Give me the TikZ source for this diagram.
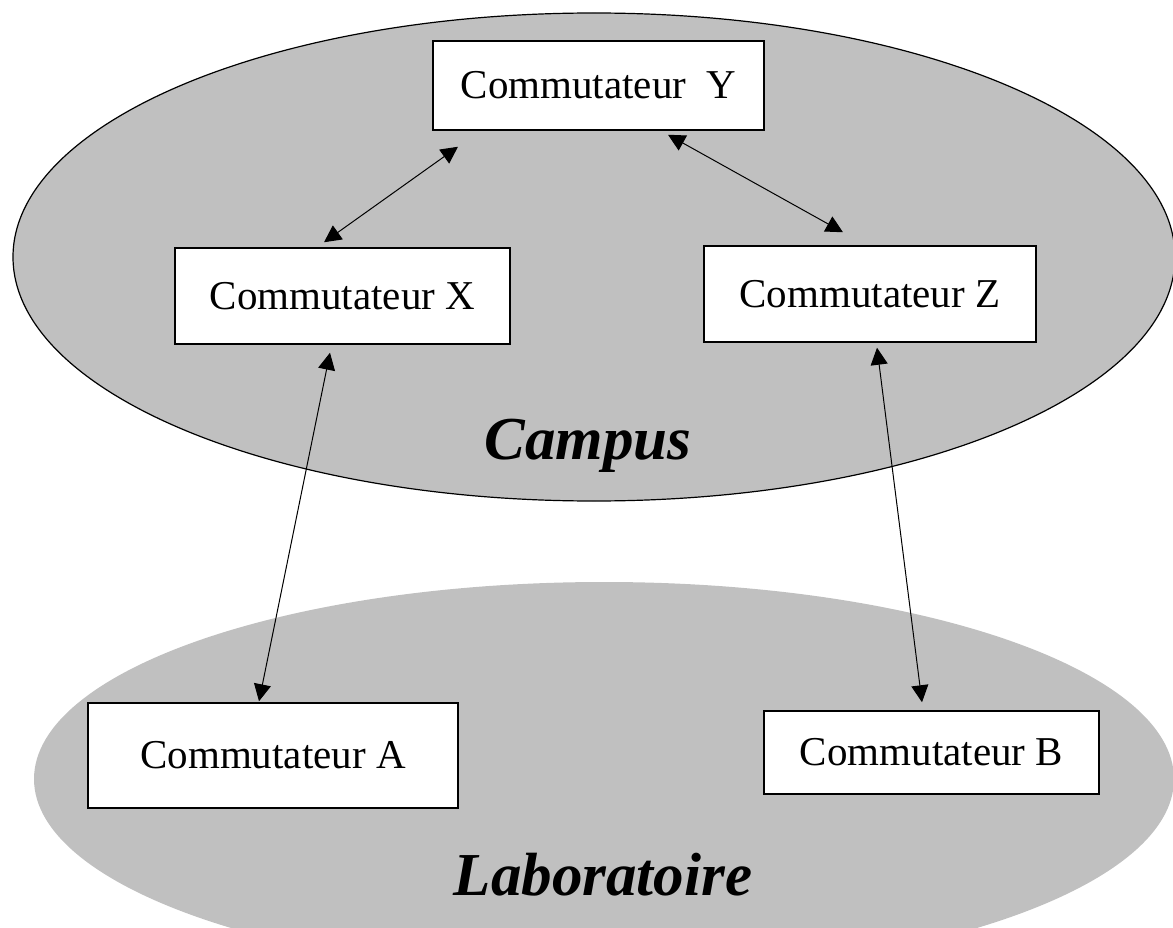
\documentclass[tikz,border=0pt]{standalone}
\usepackage{fontspec}
\setmainfont{Liberation Serif}
\usetikzlibrary{arrows.meta,calc}
\definecolor{ovalgray}{RGB}{192,192,192}
\begin{document}
\begin{tikzpicture}[x=1pt,y=-1pt,
  box/.style={draw=black, line width=1.5pt, fill=white, inner sep=0pt,
    font=\fontsize{41}{48}\selectfont},
  biarrow/.style={line width=1pt,
    {Triangle[length=17pt,width=17pt]}-{Triangle[length=17pt,width=17pt]}},
  zonelabel/.style={font=\fontsize{61}{70}\selectfont\bfseries\itshape,
    anchor=base, inner sep=0pt}]
\useasboundingbox (0,0) rectangle (1173,928);
% zones
\path[fill=ovalgray, draw=black, line width=1.2pt]
  (594,257) ellipse [x radius=581, y radius=244];
\fill[ovalgray] (604,779) ellipse [x radius=570, y radius=197];
\node[zonelabel] (campuslbl) at (588,459) {Campus};
\node[zonelabel] (lablbl) at (603,895) {Laboratoire};
% switches
\node[box, minimum width=331pt, minimum height=89pt] (Y) at (598.5,85.5) {Commutateur\ \ Y};
\node[box, minimum width=335pt, minimum height=96pt] (X) at (342.5,296) {Commutateur X};
\node[box, minimum width=332pt, minimum height=96pt] (Z) at (870,294) {Commutateur Z};
\node[box, minimum width=370pt, minimum height=105pt] (A) at (273,755.5) {Commutateur A};
\node[box, minimum width=335pt, minimum height=83pt] (B) at (931.5,752.5) {Commutateur B};
% links
\draw[biarrow] ($(X.north)+(-18.5,-5)$) -- ($(Y.south)+(-140.5,16)$);
\draw[biarrow] ($(Y.south)+(69.5,4)$) -- ($(Z.north)+(-27,-13)$);
\draw[biarrow] ($(X.south)+(-12.5,8)$) -- ($(A.north)+(-14,-1)$);
\draw[biarrow] ($(Z.south)+(7,5)$) -- ($(B.north)+(-9.5,-8)$);
\end{tikzpicture}
\end{document}
